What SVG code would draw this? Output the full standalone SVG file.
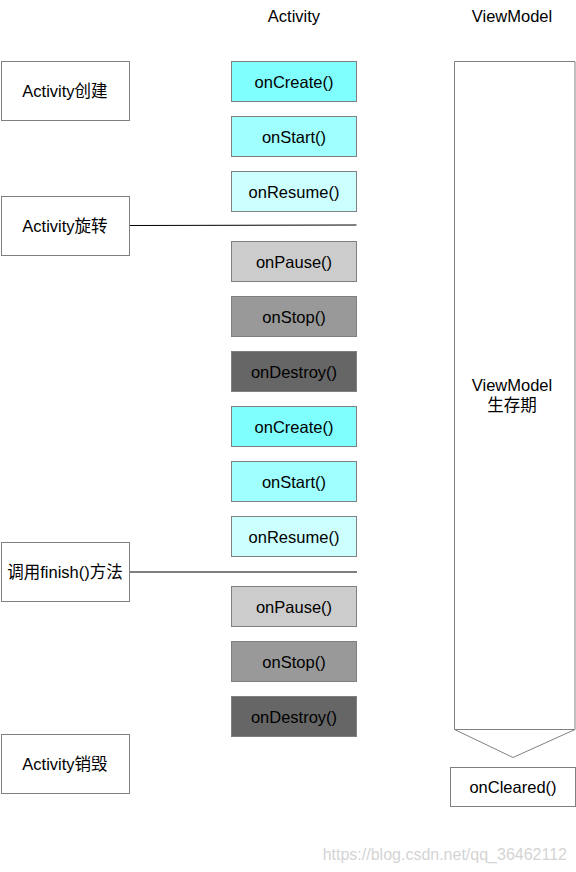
<svg xmlns="http://www.w3.org/2000/svg" width="576" height="872" viewBox="0 0 576 872">
<style>
text{font-family:"Liberation Sans","Noto Sans CJK SC",sans-serif;font-size:16.5px;fill:#000;text-anchor:middle;dominant-baseline:central}
.b{stroke:#808080;stroke-width:1}
.w{fill:#fff}
.c1{fill:#80FFFF}.c2{fill:#A0FFFF}.c3{fill:#CCFFFF}
.p{fill:#CCCCCC}.s{fill:#999999}.d{fill:#666666}
.ln{stroke:#000;stroke-width:1;fill:none}
.wm{fill:#d4d4d4;font-size:16px;text-anchor:end}
</style>
<rect width="576" height="872" fill="#fff"/>
<text x="294" y="16">Activity</text>
<text x="512" y="16">ViewModel</text>
<g id="connectors">
<line class="ln" x1="129.5" y1="225.5" x2="356.5" y2="225"/>
<line class="ln" x1="129.5" y1="572" x2="357" y2="572"/>
</g>
<g id="n-create"><rect class="b w" x="1.5" y="61.5" width="128" height="59"/><text x="65" y="91">Activity创建</text></g>
<g id="n-rotate"><rect class="b w" x="1.5" y="196.5" width="128" height="59"/><text x="65" y="226">Activity旋转</text></g>
<g id="n-finish"><rect class="b w" x="1.5" y="542.5" width="128" height="59"/><text x="65" y="572">调用finish()方法</text></g>
<g id="n-destroyed"><rect class="b w" x="1.5" y="734.5" width="128" height="59"/><text x="65" y="764">Activity销毁</text></g>
<g id="a1"><rect class="b c1" x="231.5" y="61.5" width="125" height="40"/><text x="294" y="81.5">onCreate()</text></g>
<g id="a2"><rect class="b c2" x="231.5" y="116.5" width="125" height="40"/><text x="294" y="136.5">onStart()</text></g>
<g id="a3"><rect class="b c3" x="231.5" y="171.5" width="125" height="40"/><text x="294" y="191.5">onResume()</text></g>
<g id="a4"><rect class="b p" x="231.5" y="241.5" width="125" height="40"/><text x="294" y="261.5">onPause()</text></g>
<g id="a5"><rect class="b s" x="231.5" y="296.5" width="125" height="40"/><text x="294" y="316.5">onStop()</text></g>
<g id="a6"><rect class="b d" x="231.5" y="351.5" width="125" height="40"/><text x="294" y="371.5">onDestroy()</text></g>
<g id="a7"><rect class="b c1" x="231.5" y="406.5" width="125" height="40"/><text x="294" y="426.5">onCreate()</text></g>
<g id="a8"><rect class="b c2" x="231.5" y="461.5" width="125" height="40"/><text x="294" y="481.5">onStart()</text></g>
<g id="a9"><rect class="b c3" x="231.5" y="516.5" width="125" height="40"/><text x="294" y="536.5">onResume()</text></g>
<g id="a10"><rect class="b p" x="231.5" y="586.5" width="125" height="40"/><text x="294" y="606.5">onPause()</text></g>
<g id="a11"><rect class="b s" x="231.5" y="641.5" width="125" height="40"/><text x="294" y="661.5">onStop()</text></g>
<g id="a12"><rect class="b d" x="231.5" y="696.5" width="125" height="40"/><text x="294" y="716.5">onDestroy()</text></g>
<g id="vm"><path class="b w" d="M454.5 61.5 H575 V729.5 L513 757.5 L454.5 729.5 Z"/><path class="b" fill="none" d="M454.5 729.5 H575"/><text x="512" y="385">ViewModel</text><text x="512" y="405">生存期</text></g>
<g id="cleared"><rect class="b w" x="450.5" y="767.5" width="125" height="39"/><text x="513" y="787">onCleared()</text></g>
<text class="wm" x="567" y="854">https://blog.csdn.net/qq_36462112</text>
</svg>
